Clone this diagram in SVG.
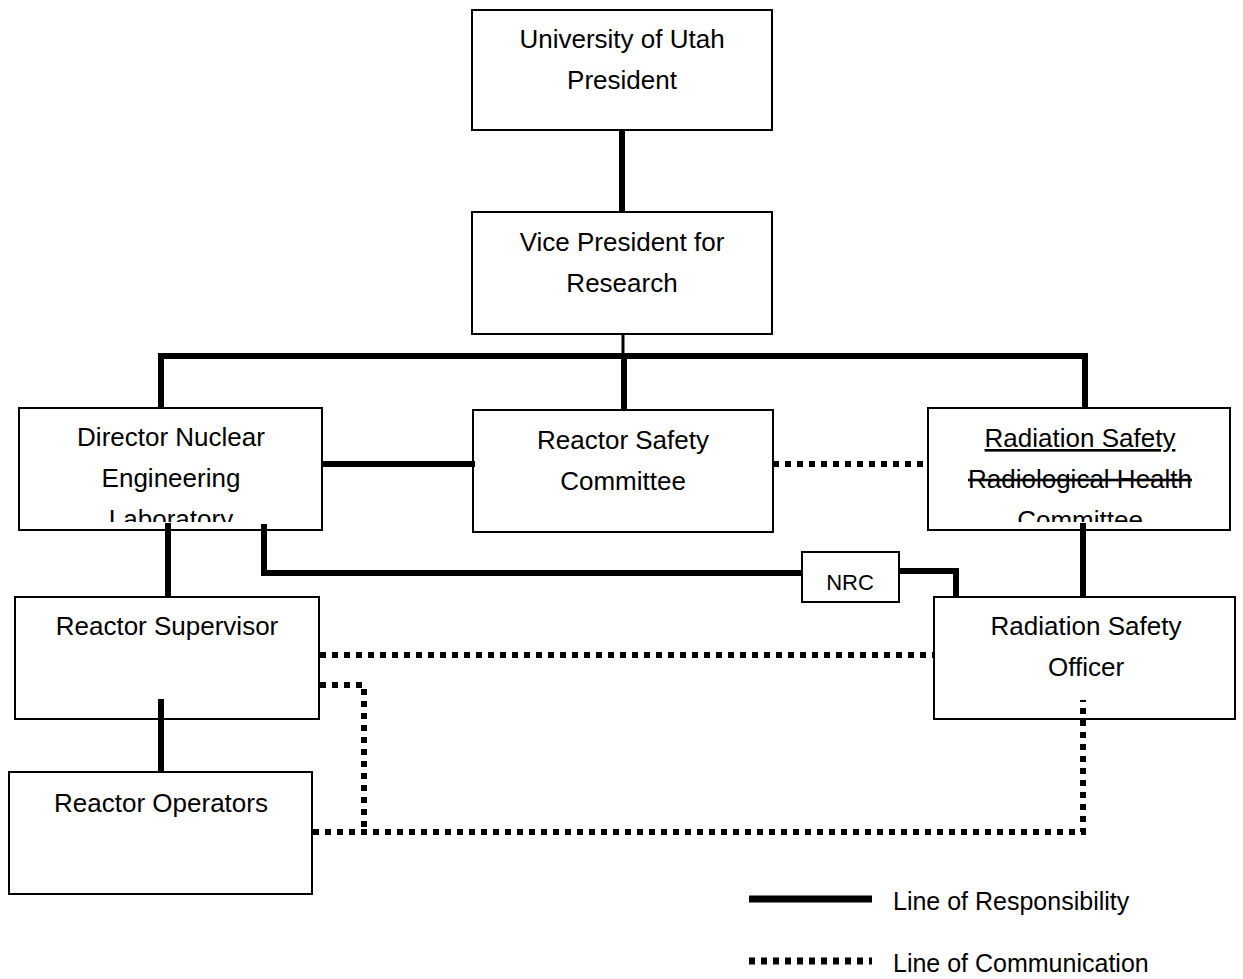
<svg xmlns="http://www.w3.org/2000/svg" width="1243" height="979" viewBox="0 0 1243 979">
<style>
  .box { fill: #fff; stroke: #000; stroke-width: 2; }
  .t { font-family: "Liberation Sans", Arial, sans-serif; font-size: 26px; fill: #000; text-anchor: middle; }
  .lg { font-family: "Liberation Sans", Arial, sans-serif; font-size: 25px; fill: #000; }
  .solid { fill: none; stroke: #000; stroke-width: 6; stroke-linecap: butt; stroke-linejoin: miter; }
  .thin { fill: none; stroke: #000; stroke-width: 3; }
  .dot { fill: none; stroke: #000; stroke-width: 6; stroke-dasharray: 6 6; stroke-linejoin: miter; }
</style>
<defs>
  <clipPath id="clipDir"><rect x="19" y="408" width="304" height="114"/></clipPath>
  <clipPath id="clipRad"><rect x="928" y="408" width="303" height="114"/></clipPath>
</defs>
<rect width="1243" height="979" fill="#fff"/>

<g id="president">
  <rect class="box" x="472" y="10" width="300" height="120"/>
  <text class="t" x="622" y="48">University of Utah</text>
  <text class="t" x="622" y="89">President</text>
</g>

<g id="vp-research">
  <rect class="box" x="472" y="212" width="300" height="122"/>
  <text class="t" x="622" y="251">Vice President for</text>
  <text class="t" x="622" y="292">Research</text>
</g>

<g id="director">
  <rect class="box" x="19" y="408" width="303" height="122"/>
  <g clip-path="url(#clipDir)">
    <text class="t" x="171" y="446">Director Nuclear</text>
    <text class="t" x="171" y="487">Engineering</text>
    <text class="t" x="171" y="528">Laboratory</text>
  </g>
</g>

<g id="reactor-safety-committee">
  <rect class="box" x="473" y="410" width="300" height="122"/>
  <text class="t" x="623" y="449">Reactor Safety</text>
  <text class="t" x="623" y="490">Committee</text>
</g>

<g id="radiation-safety-committee">
  <rect class="box" x="928" y="408" width="302" height="122"/>
  <g clip-path="url(#clipRad)">
    <text class="t" x="1080" y="447" text-decoration="underline">Radiation Safety</text>
    <text class="t" x="1080" y="488" text-decoration="line-through">Radiological Health</text>
    <text class="t" x="1080" y="529">Committee</text>
  </g>
</g>

<g id="nrc">
  <rect class="box" x="802" y="552" width="97" height="50"/>
  <text class="t" x="850" y="590" style="font-size:22px">NRC</text>
</g>

<g id="reactor-supervisor">
  <rect class="box" x="15" y="597" width="304" height="122"/>
  <text class="t" x="167" y="635">Reactor Supervisor</text>
</g>

<g id="radiation-safety-officer">
  <rect class="box" x="934" y="597" width="301" height="122"/>
  <text class="t" x="1086" y="635">Radiation Safety</text>
  <text class="t" x="1086" y="676">Officer</text>
</g>

<g id="reactor-operators">
  <rect class="box" x="9" y="772" width="303" height="122"/>
  <text class="t" x="161" y="812">Reactor Operators</text>
</g>

<g id="connectors">
  <line class="solid" x1="622" y1="130" x2="622" y2="212"/>
  <line class="thin" x1="623" y1="334" x2="623" y2="356"/>
  <polyline class="solid" points="161,408 161,356 1085,356 1085,408"/>
  <line class="solid" x1="624" y1="356" x2="624" y2="410"/>
  <line class="solid" x1="322" y1="464" x2="475" y2="464"/>
  <line class="dot" x1="773" y1="464" x2="928" y2="464"/>
  <line class="solid" x1="168" y1="523" x2="168" y2="597"/>
  <polyline class="solid" points="264,524 264,573 802,573"/>
  <polyline class="solid" points="899,571 956,571 956,598"/>
  <line class="solid" x1="1083" y1="523" x2="1083" y2="597"/>
  <line class="solid" x1="161" y1="699" x2="161" y2="773"/>
  <line class="dot" x1="320" y1="655" x2="934" y2="655"/>
  <polyline class="dot" points="320,685 364,685 364,832"/>
  <polyline class="dot" points="313,832 1083,832 1083,700"/>
</g>

<g id="legend">
  <line class="solid" x1="749" y1="899" x2="872" y2="899" style="stroke-width:7"/>
  <line class="dot" x1="749" y1="961" x2="872" y2="961" style="stroke-width:7"/>
  <text class="lg" x="893" y="910">Line of Responsibility</text>
  <text class="lg" x="893" y="972">Line of Communication</text>
</g>
</svg>
